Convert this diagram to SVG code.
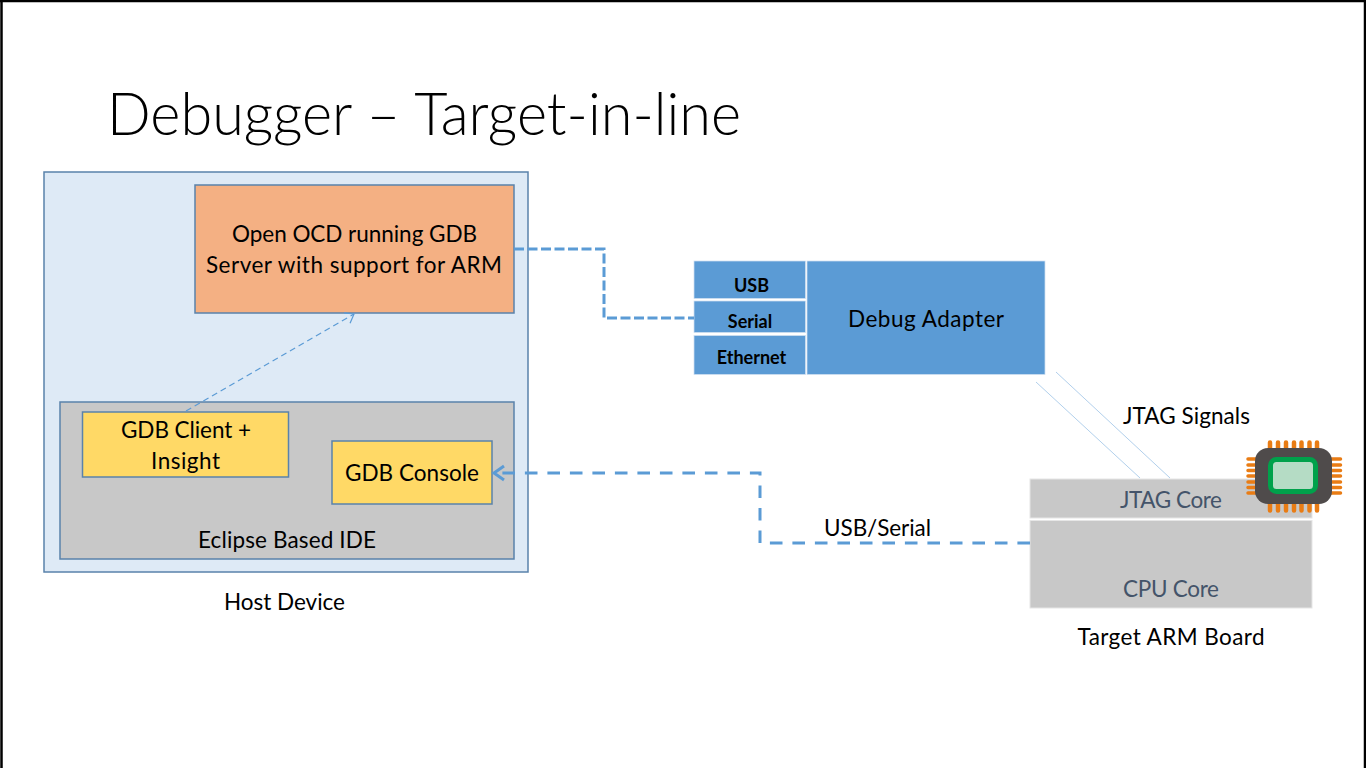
<svg xmlns="http://www.w3.org/2000/svg" width="1366" height="768" viewBox="0 0 1366 768">
<style>
text{font-family:Lato,"Liberation Sans",sans-serif;font-size:22.500px;fill:#000;text-anchor:middle}
.box{stroke:#5a82ab;stroke-width:1.5}
.blue{fill:#5b9bd5;stroke:#cfe0f1;stroke-width:.75}
.b{font-weight:700;font-size:18px}
.grey{fill:#c8c8c8;stroke:#e6e6e6;stroke-width:1}
.core{fill:#44546a}
.dash{fill:none;stroke:#5b9bd5;stroke-width:3}
.thin{fill:none;stroke:#9dc3e6;stroke-width:.8}
.pin{stroke:#e97c14;stroke-linecap:round;fill:none}
</style>
<defs>
<marker id="a1" markerUnits="userSpaceOnUse" markerWidth="12" markerHeight="14" refX="10" refY="7" orient="auto"><path d="M2 1L10 7L2 13" fill="none" stroke="#5b9bd5" stroke-width="1.2"/></marker>
<marker id="a2" markerUnits="userSpaceOnUse" markerWidth="16" markerHeight="18" refX="13" refY="9" orient="auto"><path d="M3 2L13 9L3 16" fill="none" stroke="#5b9bd5" stroke-width="3"/></marker>
</defs>
<rect width="1366" height="768" fill="#fff"/>
<path d="M0 1H1366M1.500 0V768M1365 0V768" stroke="#000" fill="none" stroke-width="2.500"/>
<text id="title" x="424" y="135" textLength="634" lengthAdjust="spacingAndGlyphs" style="font-size:60px;font-weight:300">Debugger – Target-in-line</text>
<g id="host"><rect class="box" x="44" y="172" width="484" height="400" fill="#deeaf6"/><text x="284.500" y="610" textLength="121">Host Device</text></g>
<g id="ide"><rect class="box" x="60" y="402" width="454" height="157" fill="#c8c8c8"/><text x="287" y="548" textLength="178">Eclipse Based IDE</text></g>
<g id="ocd"><rect class="box" x="195" y="185" width="319" height="128" fill="#f4b083"/><text x="354.500" y="242" textLength="245">Open OCD running GDB</text><text x="354" y="273" textLength="296">Server with support for ARM</text></g>
<g id="client"><rect class="box" x="82.500" y="412" width="206" height="65" fill="#ffd966"/><text x="186" y="438" textLength="130">GDB Client +</text><text x="185.500" y="469" textLength="69">Insight</text></g>
<g id="console"><rect class="box" x="332" y="441" width="160" height="63" fill="#ffd966"/><text x="412" y="481" textLength="134">GDB Console</text></g>
<g id="adapter"><rect class="blue" x="694" y="261" width="111.500" height="37.500"/><text class="b" x="751.500" y="292">USB</text><rect class="blue" x="694" y="301" width="111.500" height="31.500"/><text class="b" x="750" y="328">Serial</text><rect class="blue" x="694" y="335.500" width="111.500" height="39"/><text class="b" x="751.500" y="364">Ethernet</text><rect class="blue" x="807" y="261" width="238" height="113.500"/><text x="926" y="327" textLength="156">Debug Adapter</text></g>
<g id="target"><rect class="grey" x="1030" y="479" width="282" height="39"/><text class="core" x="1171" y="508" textLength="102">JTAG Core</text><rect class="grey" x="1030" y="520.500" width="282" height="87.500"/><text class="core" x="1171" y="597" textLength="96">CPU Core</text><text x="1171" y="645" textLength="187">Target ARM Board</text></g>
<g id="chip">
<path class="pin" stroke-width="4.500" d="M1270 442.500V449M1278 442.500V449M1286 442.500V449M1294 442.500V449M1301.500 442.500V449M1309.500 442.500V449M1317 442.500V449M1270 503V510.500M1278 503V510.500M1286 503V510.500M1294 503V510.500M1301.500 503V510.500M1309.500 503V510.500M1317 503V510.500"/>
<path class="pin" stroke-width="3.500" d="M1248 459H1258M1248 465H1258M1248 470.500H1258M1248 476H1258M1248 482H1258M1248 487.500H1258M1248 493H1258M1330 459H1340.500M1330 465H1340.500M1330 470.500H1340.500M1330 476H1340.500M1330 482H1340.500M1330 487.500H1340.500M1330 493H1340.500"/>
<rect x="1255" y="448" width="77" height="56" rx="13" fill="#4f4b4b"/>
<rect x="1270.500" y="459.500" width="45" height="32" rx="6" fill="#b5dcc5" stroke="#00a14b" stroke-width="5"/>
</g>
<g id="connectors">
<path class="dash" stroke-dasharray="10 3.500" d="M514 249H604V318H694"/>
<path class="dash" stroke-dasharray="12.600 9.900" d="M1030 543H760V473H494" marker-end="url(#a2)"/>
<path d="M186 411L354 314" fill="none" stroke="#5b9bd5" stroke-width="1.200" stroke-dasharray="6 4" marker-end="url(#a1)"/>
<path class="thin" d="M1036 382L1140 478M1056 372L1170 478"/>
</g>
<text id="jtag" x="1186.500" y="424" textLength="127">JTAG Signals</text>
<text id="usbserial" x="877.500" y="536" textLength="107">USB/Serial</text>
</svg>
